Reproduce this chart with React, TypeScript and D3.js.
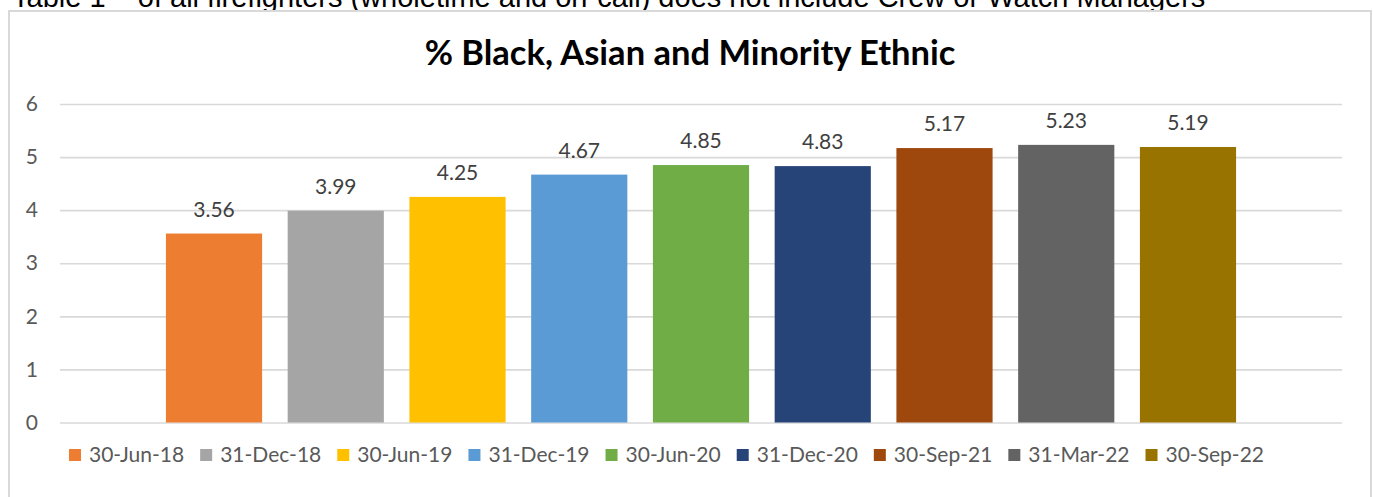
import { useRef, useEffect } from "react";
import { select, scaleBand, scaleLinear, axisLeft } from "d3";

const caption =
  "Table 1 – of all firefighters (wholetime and on-call) does not include Crew or Watch Managers";
const title = "% Black, Asian and Minority Ethnic";
const dates = [
  "30-Jun-18",
  "31-Dec-18",
  "30-Jun-19",
  "31-Dec-19",
  "30-Jun-20",
  "31-Dec-20",
  "30-Sep-21",
  "31-Mar-22",
  "30-Sep-22",
];
const values = [3.56, 3.99, 4.25, 4.67, 4.85, 4.83, 5.17, 5.23, 5.19];
const colors = [
  "#ED7D31",
  "#A5A5A5",
  "#FFC000",
  "#5B9BD5",
  "#70AD47",
  "#264478",
  "#9E480E",
  "#636363",
  "#997300",
];
const yTicks = [0, 1, 2, 3, 4, 5, 6];

const W = 1373;
const H = 497;
const font = "Lato, 'Noto Sans', sans-serif";

function App() {
  const svgRef = useRef<SVGSVGElement>(null);

  useEffect(() => {
    const svg = select(svgRef.current);
    svg.selectAll("*").remove();

    const x = scaleBand<string>()
      .domain(dates)
      .range([60, 1342])
      .paddingInner(0.21)
      .paddingOuter(0.87);
    const y = scaleLinear().domain([0, 6]).range([422.5, 104]);

    // caption above the chart, cut off by the top of the page (as in the source)
    svg
      .append("text")
      .attr("x", 12)
      .attr("y", 7)
      .attr("font-family", "'Liberation Sans', Arial, sans-serif")
      .attr("font-size", 29)
      .attr("fill", "#000")
      .text(caption);

    // chart frame
    svg
      .append("rect")
      .attr("x", 9)
      .attr("y", 11)
      .attr("width", 1362)
      .attr("height", 500)
      .attr("fill", "#fff")
      .attr("stroke", "#d9d9d9")
      .attr("stroke-width", 2);

    svg
      .append("text")
      .attr("x", 690)
      .attr("y", 65)
      .attr("text-anchor", "middle")
      .attr("font-family", font)
      .attr("font-weight", "bold")
      .attr("font-size", 34.5)
      .attr("fill", "#000")
      .text(title);

    // gridlines + y labels
    const yAxis = axisLeft(y)
      .tickValues(yTicks)
      .tickSize(-(1342 - 60))
      .tickPadding(22)
      .tickFormat((d) => String(d));
    const gy = svg.append("g").attr("transform", "translate(60,0)").call(yAxis);
    gy.select(".domain").remove();
    gy.selectAll(".tick line").attr("stroke", "#d9d9d9").attr("stroke-width", 1.6);
    gy.selectAll(".tick text")
      .attr("font-family", font)
      .attr("font-size", 21)
      .attr("fill", "#595959");

    svg
      .selectAll(".bar")
      .data(values)
      .join("rect")
      .attr("class", "bar")
      .attr("x", (_, i) => x(dates[i])!)
      .attr("y", (v) => y(v))
      .attr("width", x.bandwidth())
      .attr("height", (v) => y(0) - y(v))
      .attr("fill", (_, i) => colors[i]);

    svg
      .selectAll(".lbl")
      .data(values)
      .join("text")
      .attr("class", "lbl")
      .attr("x", (_, i) => x(dates[i])! + x.bandwidth() / 2)
      .attr("y", (v) => y(v) - 17)
      .attr("text-anchor", "middle")
      .attr("font-family", font)
      .attr("font-size", 21)
      .attr("fill", "#404040")
      .text((v) => v.toFixed(2));

    // legend laid out from measured text widths
    const legend = svg.append("g");
    const items = legend
      .selectAll("g")
      .data(dates)
      .join("g");
    items
      .append("rect")
      .attr("y", 449)
      .attr("width", 12)
      .attr("height", 12)
      .attr("fill", (_, i) => colors[i]);
    items
      .append("text")
      .attr("x", 20)
      .attr("y", 462)
      .attr("font-family", font)
      .attr("font-size", 21)
      .attr("fill", "#595959")
      .text((d) => d);

    const widths: number[] = [];
    items.selectAll<SVGTextElement, string>("text").each(function () {
      widths.push(this.getComputedTextLength());
    });
    const gap = 16;
    const total = widths.reduce((s, w) => s + 20 + w, 0) + gap * (widths.length - 1);
    let cx = 666.5 - total / 2;
    items.attr("transform", (_, i) => {
      const t = `translate(${cx},0)`;
      cx += 20 + widths[i] + gap;
      return t;
    });
  }, []);

  return (
    <svg
      ref={svgRef}
      width={W}
      height={H}
      style={{ position: "absolute", left: 0, top: 0, background: "#fff" }}
    />
  );
}

export default App;
